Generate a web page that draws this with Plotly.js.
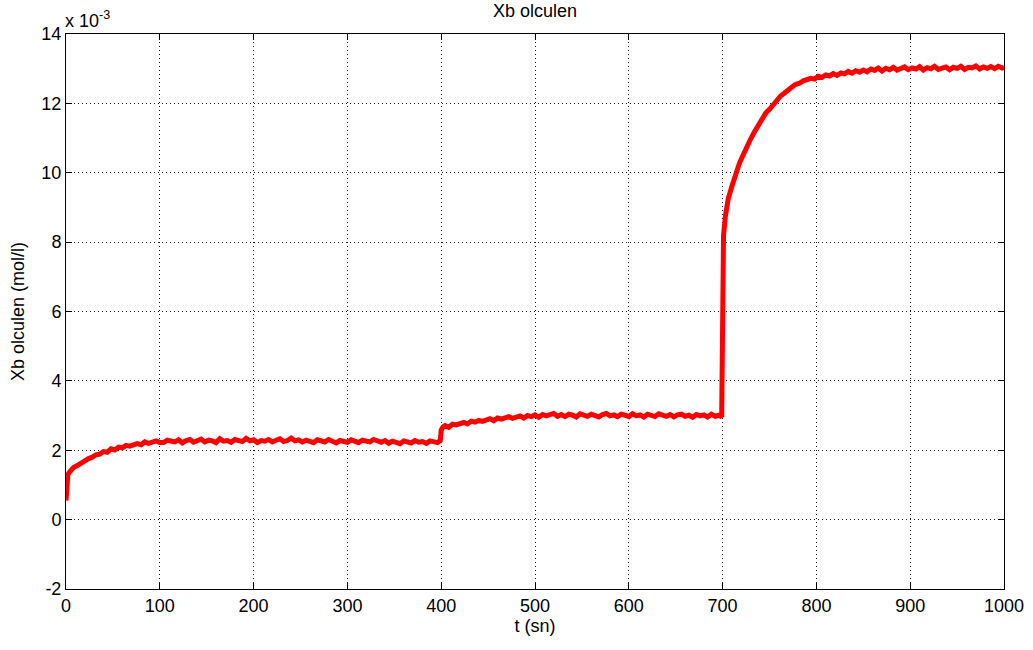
<!DOCTYPE html>
<html>
<head>
<meta charset="utf-8">
<script src="https://cdn.plot.ly/plotly-3.0.1.min.js"></script>
<style>html,body{margin:0;padding:0;background:#fff;}#chart{width:1033px;height:650px;}</style>
</head>
<body>
<div id="chart"></div>
<script>
// time (s)
const t = [0,1,2,4,8,12,16,20,24,28,32,36,40,44,48,52,56,60,64,68,72,76,80,84,88,92,96,100,
104,108,112,116,120,124,128,132,136,140,144,148,152,156,160,164,168,172,176,180,184,188,192,196,200,
204,208,212,216,220,224,228,232,236,240,244,248,252,256,260,264,268,272,276,280,284,288,292,296,300,
304,308,312,316,320,324,328,332,336,340,344,348,352,356,360,364,368,372,376,380,384,388,392,396,399,
400,402,404,408,412,416,420,424,428,432,436,440,444,448,452,456,460,464,468,472,476,480,484,488,492,496,500,
504,508,512,516,520,524,528,532,536,540,544,548,552,556,560,564,568,572,576,580,584,588,592,596,600,
604,608,612,616,620,624,628,632,636,640,644,648,652,656,660,664,668,672,676,680,684,688,692,696,699,
700,701,703,706,710,714,718,722,726,730,734,738,742,746,750,754,758,762,766,770,774,778,782,786,790,794,798,
802,806,810,814,818,822,826,830,834,838,842,846,850,854,858,862,866,870,874,878,882,886,890,894,898,
902,906,910,914,918,922,926,930,934,938,942,946,950,954,958,962,966,970,974,978,982,986,990,994,998,1000];
// Xb measured (x 10^-3 mol/l)
const xb = [0.55,1.15,1.30,1.38,1.50,1.56,1.64,1.68,1.76,1.80,1.87,1.89,1.96,1.94,2.04,2.01,2.09,2.07,2.14,2.12,2.17,2.19,2.16,2.24,2.20,2.23,2.27,2.22,
2.22,2.29,2.25,2.24,2.30,2.21,2.28,2.31,2.23,2.26,2.32,2.24,2.29,2.27,2.22,2.33,2.26,2.28,2.23,2.31,2.29,2.25,2.34,2.27,2.30,
2.22,2.28,2.26,2.31,2.24,2.29,2.33,2.25,2.28,2.35,2.27,2.30,2.24,2.29,2.26,2.22,2.30,2.27,2.24,2.31,2.25,2.21,2.28,2.26,2.23,
2.30,2.25,2.22,2.29,2.27,2.24,2.31,2.26,2.23,2.28,2.20,2.26,2.24,2.19,2.27,2.25,2.21,2.28,2.23,2.25,2.20,2.27,2.24,2.22,2.28,
2.58,2.67,2.71,2.66,2.75,2.73,2.77,2.80,2.76,2.84,2.81,2.86,2.83,2.88,2.91,2.85,2.93,2.90,2.94,2.97,2.92,2.96,2.99,2.93,3.00,2.97,3.02,
2.95,3.03,2.99,3.01,3.06,2.98,3.03,2.97,3.04,3.01,2.96,3.05,3.02,2.98,3.04,3.00,2.96,3.03,3.06,2.99,3.02,2.97,3.04,3.01,2.97,
3.05,2.99,3.02,2.96,3.04,3.00,2.97,3.05,3.01,2.98,3.03,2.96,3.02,3.04,2.98,3.01,2.95,3.03,2.99,3.02,2.96,3.04,2.98,3.01,2.96,
7.70,8.20,8.75,9.25,9.62,9.98,10.28,10.52,10.78,10.98,11.18,11.38,11.53,11.72,11.83,11.98,12.08,12.22,12.30,12.40,12.47,12.55,12.58,12.65,12.68,12.72,12.70,
12.78,12.75,12.82,12.79,12.86,12.81,12.88,12.85,12.92,12.87,12.94,12.90,12.96,12.91,12.99,12.95,13.02,12.93,13.01,12.97,13.04,12.96,13.00,13.05,12.97,
13.02,12.99,13.06,12.96,13.03,13.00,13.07,12.98,13.03,13.05,12.97,13.04,13.01,13.07,12.98,13.04,13.02,13.08,12.99,13.05,13.01,13.06,13.00,13.07,13.02,13.04];

const xTicks = [0,100,200,300,400,500,600,700,800,900,1000];
const yTicks = [-2,0,2,4,6,8,10,12,14];

const fontFam = '"Liberation Sans", Arial, sans-serif';
const axisCommon = {
  showline: true, linecolor: '#000', linewidth: 1, mirror: 'ticks',
  ticks: 'inside', ticklen: 6, tickcolor: '#000', tickwidth: 1,
  showgrid: true, gridcolor: '#222', gridwidth: 1, griddash: '1px,3px',
  zeroline: false, tickfont: {family: fontFam, size: 18, color: '#000'},
  automargin: false
};

const data = [{
  x: t, y: xb, type: 'scatter', mode: 'lines',
  line: {color: '#ff0000', width: 5}, hoverinfo: 'skip'
}];

const layout = {
  width: 1033, height: 650,
  paper_bgcolor: '#fff', plot_bgcolor: '#fff',
  margin: {l: 66, r: 29, t: 34, b: 61},
  showlegend: false,
  title: {text: 'Xb olculen', font: {family: fontFam, size: 18, color: '#000'}, x: 0.518, xanchor: 'center', y: 0.983, yanchor: 'middle'},
  xaxis: Object.assign({}, axisCommon, {
    range: [0, 1000], tickvals: xTicks, ticktext: xTicks.map(String),
    title: {text: 't (sn)', font: {family: fontFam, size: 18, color: '#000'}, standoff: 3}
  }),
  yaxis: Object.assign({}, axisCommon, {
    range: [-2, 14], tickvals: yTicks, ticktext: yTicks.map(String),
    title: {text: 'Xb olculen (mol/l)', font: {family: fontFam, size: 18, color: '#000'}, standoff: 12}
  }),
  annotations: [{
    xref: 'paper', yref: 'paper', x: 0, y: 1, xanchor: 'left', yanchor: 'bottom', yshift: 1, xshift: -3,
    text: 'x 10<sup>-3</sup>', showarrow: false, font: {family: fontFam, size: 18, color: '#000'}
  }]
};

Plotly.newPlot('chart', data, layout, {displayModeBar: false, staticPlot: true});
</script>
</body>
</html>
